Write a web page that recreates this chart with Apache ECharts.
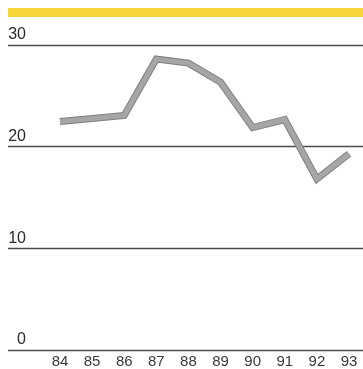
<!DOCTYPE html>
<html>
<head>
<meta charset="utf-8">
<script src="https://cdn.jsdelivr.net/npm/echarts@6/dist/echarts.min.js"></script>
<style>
  html, body { margin: 0; padding: 0; background: #fff; }
  #chart { width: 363px; height: 369px; }
</style>
</head>
<body>
<div id="chart"></div>
<script>
// Years along the bottom and the yearly values of the series
const years = ['84', '85', '86', '87', '88', '89', '90', '91', '92', '93'];
const values = [22.4, 22.7, 23.0, 28.6, 28.2, 26.3, 21.8, 22.6, 16.7, 19.2];
const yTicks = [0, 10, 20, 30];

const chart = echarts.init(document.getElementById('chart'), null, { renderer: 'canvas' });

const font = '"Liberation Sans", Arial, Helvetica, sans-serif';

chart.setOption({
  animation: false,
  backgroundColor: '#ffffff',
  graphic: [
    {
      type: 'rect',
      left: 8, top: 8,
      shape: { width: 355, height: 9 },
      style: { fill: '#f5d53a' }
    }
  ],
  grid: [
    // full-width grid carrying the horizontal rules and their labels
    { left: 8, right: 0, top: 45, bottom: 19 },
    // inner grid where the years are laid out
    { left: 60, right: 14, top: 45, bottom: 19 }
  ],
  xAxis: [
    { gridIndex: 0, type: 'value', show: false, min: 0, max: 1 },
    {
      gridIndex: 1,
      type: 'category',
      data: years,
      boundaryGap: false,
      axisLine: { show: false },
      axisTick: { show: false },
      axisLabel: { color: '#3a3a3a', fontSize: 15, fontFamily: font, margin: 7 }
    }
  ],
  yAxis: [
    {
      gridIndex: 0,
      type: 'value',
      min: yTicks[0],
      max: yTicks[yTicks.length - 1],
      interval: 10,
      axisLine: { show: false },
      axisTick: { show: false },
      splitLine: { lineStyle: { color: '#4a4a4a', width: 1.3 } },
      axisLabel: {
        inside: true,
        margin: 18,
        align: 'right',
        verticalAlign: 'bottom',
        padding: [0, 0, 2, 0],
        color: '#2a2a2a',
        fontSize: 16,
        fontFamily: font
      }
    },
    {
      gridIndex: 1,
      type: 'value',
      min: yTicks[0],
      max: yTicks[yTicks.length - 1],
      show: false
    }
  ],
  series: [
    {
      // darker outline of the band
      type: 'line',
      xAxisIndex: 1,
      yAxisIndex: 1,
      data: values,
      symbol: 'none',
      lineStyle: { color: '#808080', width: 7, join: 'miter' },
      z: 2
    },
    {
      type: 'line',
      xAxisIndex: 1,
      yAxisIndex: 1,
      data: values,
      symbol: 'none',
      lineStyle: { color: '#a6a6a6', width: 5, join: 'miter' },
      z: 3
    }
  ]
});
</script>
</body>
</html>
